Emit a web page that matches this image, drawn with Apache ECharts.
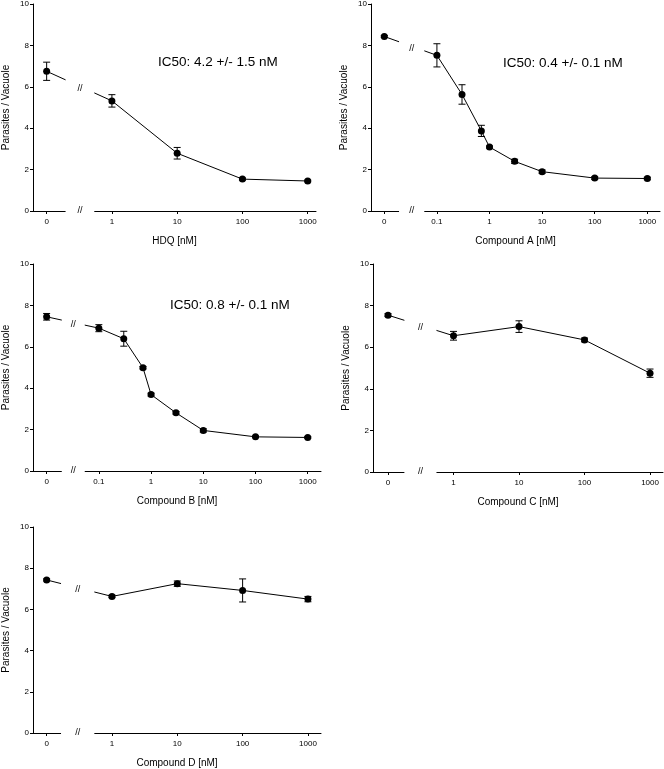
<!DOCTYPE html>
<html><head><meta charset="utf-8">
<script src="https://cdn.jsdelivr.net/npm/echarts@6/dist/echarts.min.js"></script>
<style>html,body{margin:0;padding:0;background:#fff}#c{width:664px;height:769px}</style>
</head><body><div id="c"></div>
<script>
// ---------- data ----------
const ticksDecade1 = ['0', '1', '10', '100', '1000'];
const ticksDecade01 = ['0', '0.1', '1', '10', '100', '1000'];
const yTitle = 'Parasites / Vacuole';

const hdqConc = [0, 1, 10, 100, 1000];
const hdqMean = [6.75, 5.32, 2.79, 1.54, 1.45];
const hdqErr  = [0.44, 0.30, 0.28, 0.05, 0.04];
const hdqName = 'HDQ [nM]';
const hdqIC50 = 'IC50: 4.2 +/- 1.5 nM';

const aConc = [0, 0.1, 0.3, 0.7, 1, 3, 10, 100, 1000];
const aMean = [8.43, 7.52, 5.63, 3.87, 3.09, 2.40, 1.90, 1.59, 1.57];
const aErr  = [0.05, 0.56, 0.47, 0.27, 0.05, 0.10, 0.08, 0.06, 0.06];
const aName = 'Compound A [nM]';
const aIC50 = 'IC50: 0.4 +/- 0.1 nM';

const bConc = [0, 0.1, 0.3, 0.7, 1, 3, 10, 100, 1000];
const bMean = [7.45, 6.90, 6.39, 4.99, 3.69, 2.81, 1.96, 1.65, 1.62];
const bErr  = [0.16, 0.17, 0.36, 0.06, 0.07, 0.06, 0.08, 0.04, 0.04];
const bName = 'Compound B [nM]';
const bIC50 = 'IC50: 0.8 +/- 0.1 nM';

const cConc = [0, 1, 10, 100, 1000];
const cMean = [7.54, 6.55, 6.99, 6.35, 4.75];
const cErr  = [0.07, 0.21, 0.28, 0.09, 0.20];
const cName = 'Compound C [nM]';

const dConc = [0, 1, 10, 100, 1000];
const dMean = [7.43, 6.63, 7.25, 6.92, 6.50];
const dErr  = [0.05, 0.06, 0.13, 0.56, 0.13];
const dName = 'Compound D [nM]';

// ---------- layout ----------
const FONT = '"Liberation Sans", Arial, Helvetica, sans-serif';
const panels = [
  {conc: hdqConc, mean: hdqMean, err: hdqErr, ticks: ticksDecade1, name: hdqName, ic50: hdqIC50,
   grid: {left: 32, top: 4, width: 284, height: 207}, xMin: -1.209, xMax: 3.127, gap: [0.29, 0.73], icPos: [158, 62]},
  {conc: aConc, mean: aMean, err: aErr, ticks: ticksDecade01, name: aName, ic50: aIC50,
   grid: {left: 371, top: 3, width: 289, height: 208}, xMin: -2.253, xMax: 3.241, gap: [0.28, 0.76], icPos: [503, 63]},
  {conc: bConc, mean: bMean, err: bErr, ticks: ticksDecade01, name: bName, ic50: bIC50,
   grid: {left: 32, top: 264, width: 289, height: 207}, xMin: -2.261, xMax: 3.254, gap: [0.29, 0.73], icPos: [170, 305]},
  {conc: cConc, mean: cMean, err: cErr, ticks: ticksDecade1, name: cName, ic50: null,
   grid: {left: 373, top: 264, width: 290, height: 208}, xMin: -1.229, xMax: 3.198, gap: [0.25, 0.74]},
  {conc: dConc, mean: dMean, err: dErr, ticks: ticksDecade1, name: dName, ic50: null,
   grid: {left: 32, top: 527, width: 289, height: 207}, xMin: -1.209, xMax: 3.2, gap: [0.22, 0.73]}
];

function lg(v) { return Math.round(Math.log10(v) * 1e6) / 1e6; }

const option = {
  animation: false,
  backgroundColor: '#fff',
  textStyle: {fontFamily: FONT},
  grid: [], xAxis: [], yAxis: [], series: [], graphic: []
};

panels.forEach((p, i) => {
  const firstNZ = Math.min(...p.conc.filter(c => c > 0));
  const zeroPos = lg(firstNZ) - 1;
  const pos = c => (c === 0 ? zeroPos : lg(c));
  const tickPos = p.ticks.map(t => pos(parseFloat(t)));

  option.grid.push(Object.assign({containLabel: false}, p.grid));
  option.xAxis.push({
    type: 'value', gridIndex: i, min: p.xMin, max: p.xMax,
    name: p.name, nameLocation: 'middle', nameGap: 25,
    nameTextStyle: {fontSize: 10, color: '#000', fontFamily: FONT},
    axisLine: {show: true, onZero: false, lineStyle: {color: '#000', width: 1}},
    axisTick: {show: true, length: 3, inside: false, customValues: tickPos, lineStyle: {color: '#000'}},
    axisLabel: {show: true, fontSize: 8, color: '#000', margin: 7, customValues: tickPos,
      formatter: v => {
        let best = 0, bd = 1e9;
        tickPos.forEach((tp, k) => { const d = Math.abs(tp - v); if (d < bd) { bd = d; best = k; } });
        return p.ticks[best];
      }},
    splitLine: {show: false}
  });
  option.yAxis.push({
    type: 'value', gridIndex: i, min: 0, max: 10, interval: 2,
    name: yTitle, nameLocation: 'middle', nameGap: 22,
    nameTextStyle: {fontSize: 10, color: '#000', fontFamily: FONT},
    axisLine: {show: true, onZero: false, lineStyle: {color: '#000', width: 1}},
    axisTick: {show: true, length: 3, inside: false, lineStyle: {color: '#000'}},
    axisLabel: {fontSize: 8, color: '#000', margin: 4, formatter: v => String(v)},
    splitLine: {show: false}
  });

  const pts = p.conc.map((c, k) => [pos(c), p.mean[k]]);
  option.series.push({
    type: 'line', xAxisIndex: i, yAxisIndex: i, data: pts,
    symbol: 'circle', symbolSize: 7, showSymbol: true,
    itemStyle: {color: '#000'}, lineStyle: {color: '#000', width: 1}, z: 3
  });
  option.series.push({
    type: 'custom', xAxisIndex: i, yAxisIndex: i, z: 4,
    data: p.conc.map((c, k) => [pos(c), p.mean[k] - p.err[k], p.mean[k] + p.err[k]]),
    encode: {x: 0, y: [1, 2]},
    renderItem: (params, api) => {
      const x = api.value(0);
      const lo = api.coord([x, api.value(1)]);
      const hi = api.coord([x, api.value(2)]);
      const hw = 3.5;
      const st = {stroke: '#000', lineWidth: 1};
      return {type: 'group', children: [
        {type: 'line', shape: {x1: lo[0], y1: lo[1], x2: hi[0], y2: hi[1]}, style: st},
        {type: 'line', shape: {x1: lo[0] - hw, y1: lo[1], x2: lo[0] + hw, y2: lo[1]}, style: st},
        {type: 'line', shape: {x1: hi[0] - hw, y1: hi[1], x2: hi[0] + hw, y2: hi[1]}, style: st}
      ]};
    }
  });
  // axis break: white mask over the gap plus "//" marks
  const g0 = zeroPos + p.gap[0], g1 = zeroPos + p.gap[1], gc = (g0 + g1) / 2;
  const t = (gc - pts[0][0]) / (pts[1][0] - pts[0][0]);
  const yLine = pts[0][1] + t * (pts[1][1] - pts[0][1]);
  option.series.push({
    type: 'custom', xAxisIndex: i, yAxisIndex: i, z: 10, clip: false, silent: true,
    data: [[gc, yLine]],
    renderItem: (params, api) => {
      const a = api.coord([g0, 10]);
      const b = api.coord([g1, 0]);
      const m = api.coord([gc, api.value(1)]);
      const z0 = api.coord([gc, 0]);
      return {type: 'group', children: [
        {type: 'rect', shape: {x: a[0], y: a[1], width: b[0] - a[0], height: b[1] - a[1] + 3},
         style: {fill: '#fff'}},
        {type: 'text', x: m[0], y: m[1] + 2, style: {text: '//', fill: '#000', font: '9px ' + FONT, align: 'center', verticalAlign: 'middle'}},
        {type: 'text', x: z0[0], y: z0[1], style: {text: '//', fill: '#000', font: '9px ' + FONT, align: 'center', verticalAlign: 'middle'}}
      ]};
    }
  });
  if (p.ic50) {
    option.graphic.push({type: 'text', x: p.icPos[0], y: p.icPos[1],
      style: {text: p.ic50, fill: '#000', font: '13.5px ' + FONT, verticalAlign: 'middle'}});
  }
});

const chart = echarts.init(document.getElementById('c'), null, {renderer: 'canvas'});
chart.setOption(option);
</script>
</body></html>
